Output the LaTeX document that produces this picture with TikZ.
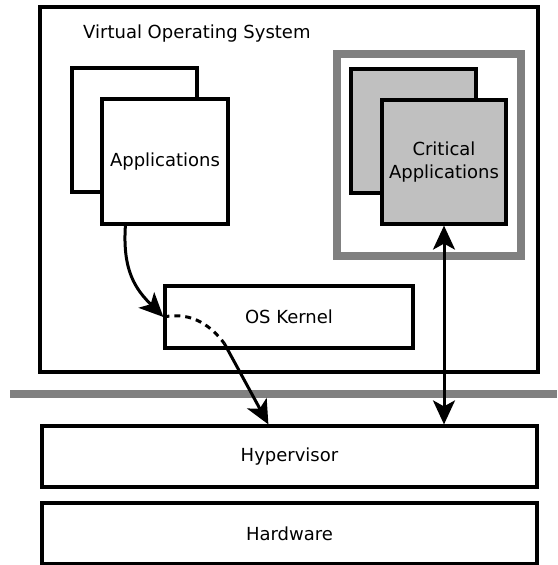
\documentclass[tikz,border=0pt]{standalone}
\usepackage{fontspec}
\setmainfont{DejaVu Sans}
\usetikzlibrary{arrows.meta,calc}
\definecolor{critgray}{HTML}{C0C0C0}
\definecolor{framegray}{HTML}{808080}
\begin{document}
\begin{tikzpicture}[x=1pt,y=-1pt,
  box/.style={draw=black,line width=3.2pt,fill=white,inner sep=0pt,
    font=\fontsize{18}{23}\selectfont,align=center},
  critbox/.style={box,fill=critgray},
  arr/.style={line width=3pt,-{Stealth[length=24pt,width=22pt,inset=6pt]}},
  darr/.style={line width=3pt,{Stealth[length=24pt,width=22pt,inset=6pt]}-{Stealth[length=24pt,width=22pt,inset=6pt]}},
  dotline/.style={line width=3pt,dash pattern=on 6pt off 5pt},
  sepline/.style={line width=8pt,draw=framegray},
  lbl/.style={font=\fontsize{18}{23}\selectfont,inner sep=0pt}]
\useasboundingbox (0,0) rectangle (557,565);
% outer virtual OS box
\node[box,minimum width=498pt,minimum height=365pt] (vos) at (289,189.5) {};
\node[lbl,anchor=west] (vostext) at (83,34) {Virtual Operating System};
% applications
\node[box,minimum width=125pt,minimum height=124pt] (appback) at (134.5,130) {};
\node[box,minimum width=126pt,minimum height=125pt] (appfront) at (165,161.5) {Applications};
% critical frame
\node[draw=framegray,line width=8pt,minimum width=184.5pt,minimum height=201.5pt,inner sep=0pt] (critframe) at (428.75,154.75) {};
\node[critbox,minimum width=125pt,minimum height=124pt] (critback) at (413.5,131) {};
\node[critbox,minimum width=124pt,minimum height=124pt] (critfront) at (444,162) {Critical\\Applications};
% kernel
\node[box,minimum width=248pt,minimum height=62pt] (kernel) at (289,317) {OS Kernel};
% separator
\coordinate (sepL) at (10,394);
\coordinate (sepR) at (557,394);
\draw[sepline] (sepL) -- (sepR);
% hypervisor and hardware
\node[box,minimum width=495pt,minimum height=61pt] (hyper) at (289.5,456.5) {Hypervisor};
\node[box,minimum width=495pt,minimum height=61pt] (hard) at (289.5,533.5) {Hardware};
% connectors
\coordinate (appout) at ($(appfront.south west)+(25,0)$);
\coordinate (kout) at ($(kernel.south west)+(61,-6)$);
\coordinate (hin) at ($(hyper.north west)+(228,0)$);
\draw[arr] (appout) .. controls +(-3,45) and +(-28,-28) .. (kernel.west);
\draw[dotline] (kernel.west) .. controls +(30,-6) and +(-12,-16) .. (kout);
\draw[arr] (kout) -- (hin);
\draw[darr] (critfront.south) -- (critfront.south |- hyper.north);
\end{tikzpicture}
\end{document}
